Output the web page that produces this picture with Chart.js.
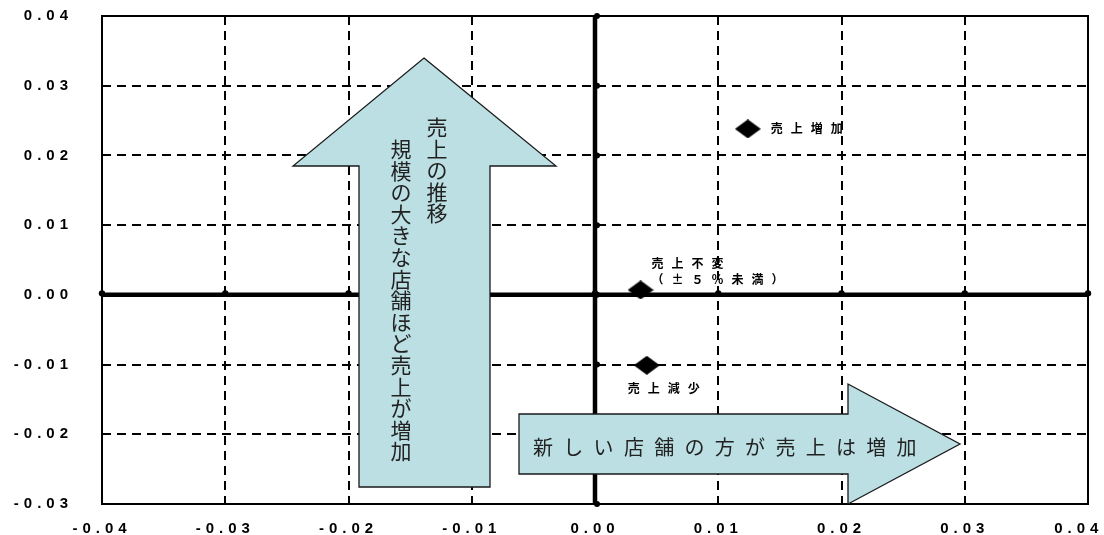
<!DOCTYPE html>
<html lang="ja">
<head>
<meta charset="utf-8">
<script src="https://cdn.jsdelivr.net/npm/chart.js@4/dist/chart.umd.min.js"></script>
<style>
  html, body { margin: 0; padding: 0; background: #fff; }
  #wrap { width: 1104px; height: 535px; position: relative; }
</style>
</head>
<body>
<div id="wrap"><canvas id="c"></canvas></div>
<script>
// Store groups: sales trend position (x: store age effect, y: store size effect)
const categories = ['売上増加', '売上不変', '売上減少'];
const xValues = [0.0124, 0.0037, 0.0042];
const yValues = [0.0238, 0.0007, -0.0101];
const pointLabels = [['売上増加'], ['売上不変', '（±５％未満）'], ['売上減少']];

const xTickLabels = ['-0.04', '-0.03', '-0.02', '-0.01', '0.00', '0.01', '0.02', '0.03', '0.04'];
const yTickLabels = ['-0.03', '-0.02', '-0.01', '0.00', '0.01', '0.02', '0.03', '0.04'];

const upArrowText = ['売上の推移', '規模の大きな店舗ほど売上が増加'];
const rightArrowText = '新しい店舗の方が売上は増加';

const CJK = '"Noto Sans CJK JP", "Noto Sans", sans-serif';
const LATIN = '"Liberation Sans", Arial, sans-serif';

// Wide black diamond marker
function makeDiamond(w, h) {
  const cv = document.createElement('canvas');
  cv.width = w; cv.height = h;
  const g = cv.getContext('2d');
  g.fillStyle = '#000';
  g.beginPath();
  g.moveTo(w / 2, 0);
  g.lineTo(w, h / 2);
  g.lineTo(w / 2, h);
  g.lineTo(0, h / 2);
  g.closePath();
  g.fill();
  return cv;
}
const diamond = makeDiamond(26, 19);

const points = categories.map((c, i) => ({ x: xValues[i], y: yValues[i] }));

// Label offsets relative to each marker, in pixels
const labelOffsets = [
  [{ dx: 23, dy: 0 }],
  [{ dx: 11, dy: -27 }, { dx: 11, dy: -11 }],
  [{ dx: -19, dy: 23 }]
];

// Scales keep exactly the space given to them (no extra label overflow padding)
function fixScale(scale, size) {
  if (scale.isHorizontal()) scale.height = size; else scale.width = size;
  scale.paddingLeft = 0; scale.paddingRight = 0;
  scale.paddingTop = 0; scale.paddingBottom = 0;
}

const axesPlugin = {
  id: 'axesDecor',
  beforeDraw(chart) {
    chart.ctx.letterSpacing = '5px';
  },
  beforeDatasetsDraw(chart) {
    const ctx = chart.ctx;
    ctx.letterSpacing = '0px';
    const { left, right, top, bottom } = chart.chartArea;
    const xs = chart.scales.x, ys = chart.scales.y;
    const x0 = xs.getPixelForValue(0), y0 = ys.getPixelForValue(0);
    ctx.save();
    // plot frame
    ctx.strokeStyle = '#000';
    ctx.lineWidth = 2;
    ctx.setLineDash([]);
    ctx.strokeRect(left, top, right - left, bottom - top);
    // heavy zero axes
    ctx.lineWidth = 4.5;
    ctx.beginPath();
    ctx.moveTo(left, y0); ctx.lineTo(right, y0);
    ctx.moveTo(x0, top); ctx.lineTo(x0, bottom);
    ctx.stroke();
    // tick nubs along the zero axes
    ctx.fillStyle = '#000';
    xs.ticks.forEach(t => {
      const px = xs.getPixelForValue(t.value);
      ctx.beginPath();
      ctx.arc(px, y0 - 1.5, 3.2, 0, Math.PI * 2);
      ctx.fill();
    });
    ys.ticks.forEach(t => {
      const py = ys.getPixelForValue(t.value);
      ctx.beginPath();
      ctx.arc(x0 + 2, py, 3, 0, Math.PI * 2);
      ctx.fill();
    });
    ctx.restore();
  },
  afterDatasetsDraw(chart) {
    const ctx = chart.ctx;
    const xs = chart.scales.x, ys = chart.scales.y;
    ctx.save();
    // marker labels
    ctx.fillStyle = '#000';
    ctx.font = 'bold 12px ' + CJK;
    ctx.letterSpacing = '8px';
    ctx.textAlign = 'left';
    ctx.textBaseline = 'middle';
    points.forEach((p, i) => {
      const px = xs.getPixelForValue(p.x), py = ys.getPixelForValue(p.y);
      pointLabels[i].forEach((line, j) => {
        const o = labelOffsets[i][j];
        ctx.fillText(line, px + o.dx, py + o.dy);
      });
    });
    ctx.letterSpacing = '0px';

    const fill = '#bbdfe3';
    const edge = '#1a1a1a';
    // upward arrow: store size effect
    ctx.beginPath();
    ctx.moveTo(424, 58);
    ctx.lineTo(556, 166);
    ctx.lineTo(490, 166);
    ctx.lineTo(490, 487);
    ctx.lineTo(359, 487);
    ctx.lineTo(359, 166);
    ctx.lineTo(293, 166);
    ctx.closePath();
    ctx.fillStyle = fill;
    ctx.fill();
    ctx.lineWidth = 1.3;
    ctx.strokeStyle = edge;
    ctx.stroke();

    // rightward arrow: store age effect
    ctx.beginPath();
    ctx.moveTo(519, 414);
    ctx.lineTo(848, 414);
    ctx.lineTo(848, 384);
    ctx.lineTo(960, 444);
    ctx.lineTo(848, 504);
    ctx.lineTo(848, 474);
    ctx.lineTo(519, 474);
    ctx.closePath();
    ctx.fillStyle = fill;
    ctx.fill();
    ctx.stroke();

    // vertical text inside the up arrow
    ctx.fillStyle = '#222';
    ctx.font = '21px ' + CJK;
    ctx.textAlign = 'center';
    ctx.textBaseline = 'middle';
    const drawVertical = (text, cx, firstCenter, step) => {
      Array.from(text).forEach((ch, k) => ctx.fillText(ch, cx, firstCenter + k * step));
    };
    drawVertical(upArrowText[0], 437, 127.5, 21.4);
    drawVertical(upArrowText[1], 401, 149, 21.6);

    // spaced text inside the right arrow
    ctx.font = '20px ' + CJK;
    Array.from(rightArrowText).forEach((ch, k) => ctx.fillText(ch, 543 + k * 30.3, 447));
    ctx.restore();
  }
};

new Chart(document.getElementById('c'), {
  type: 'scatter',
  data: {
    datasets: [{
      label: '店舗区分',
      data: points,
      pointStyle: diamond,
      pointRadius: 13,
      pointHoverRadius: 13,
      backgroundColor: '#000',
      borderColor: '#000'
    }]
  },
  options: {
    responsive: true,
    maintainAspectRatio: false,
    animation: false,
    events: [],
    layout: { padding: { left: 0, right: 16, top: 16, bottom: 0 } },
    plugins: { legend: { display: false }, tooltip: { enabled: false } },
    scales: {
      x: {
        type: 'linear',
        min: -0.04, max: 0.04,
        afterFit(scale) { fixScale(scale, 31); },
        grid: {
          color: '#000',
          lineWidth: c => (c.tick && c.tick.value === 0 ? 0 : 2),
          drawTicks: false
        },
        border: { display: false, dash: [9, 6] },
        ticks: {
          stepSize: 0.01,
          padding: 16,
          color: '#000',
          font: { family: LATIN, size: 15, weight: 'bold' },
          maxRotation: 0,
          autoSkip: false,
          // the rightmost label is nudged inward so it stays inside the canvas
          callback: (v, i) => (i === xTickLabels.length - 1 ? xTickLabels[i] + '  ' : xTickLabels[i])
        }
      },
      y: {
        type: 'linear',
        min: -0.03, max: 0.04,
        afterFit(scale) { fixScale(scale, 102); },
        grid: {
          color: '#000',
          lineWidth: c => (c.tick && c.tick.value === 0 ? 0 : 2),
          drawTicks: false
        },
        border: { display: false, dash: [9, 6] },
        ticks: {
          stepSize: 0.01,
          padding: 29,
          color: '#000',
          font: { family: LATIN, size: 15, weight: 'bold' },
          autoSkip: false,
          callback: (v, i) => yTickLabels[i]
        }
      }
    }
  },
  plugins: [axesPlugin]
});
</script>
</body>
</html>
